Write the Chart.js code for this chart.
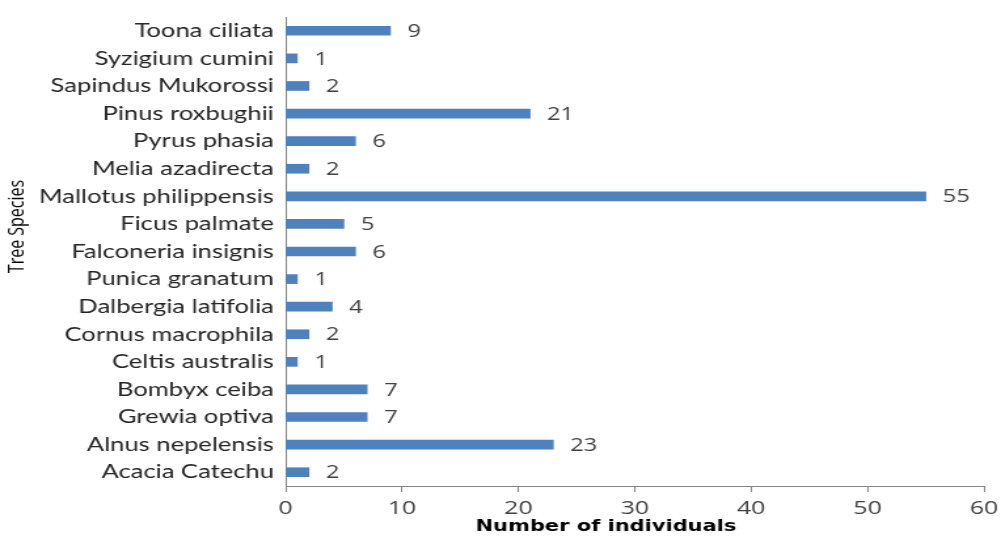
<!DOCTYPE html>
<html>
<head>
<meta charset="utf-8">
<script src="https://cdn.jsdelivr.net/npm/chart.js@4"></script>
<style>
  html, body { margin: 0; padding: 0; background: #fff; overflow: hidden; }
  /* the chart is laid out narrow and then widened, the text comes out broad like the printed figure */
  #wrap { width: 764px; height: 536px; transform: scaleX(1.3102); transform-origin: 0 0; }
</style>
</head>
<body>
<div id="wrap"><canvas id="species_chart" width="764" height="536"></canvas></div>
<script>
// species counted, top to bottom as shown on the axis
var species = ["Toona ciliata", "Syzigium cumini", "Sapindus Mukorossi", "Pinus roxbughii",
  "Pyrus phasia", "Melia azadirecta", "Mallotus philippensis", "Ficus palmate",
  "Falconeria insignis", "Punica granatum", "Dalbergia latifolia", "Cornus macrophila",
  "Celtis australis", "Bombyx ceiba", "Grewia optiva", "Alnus nepelensis", "Acacia Catechu"]
var individuals = [9, 1, 2, 21, 6, 2, 55, 5, 6, 1, 4, 2, 1, 7, 7, 23, 2]
var x_ticks = [0, 10, 20, 30, 40, 50, 60]

var label_font = "Lato, 'Open Sans', sans-serif"
var number_font = "'Open Sans', 'Liberation Sans', sans-serif"

// number written after each bar
var valueLabels = {
  id: 'valueLabels',
  afterDatasetsDraw(chart) {
    let ctx = chart.ctx
    let meta = chart.getDatasetMeta(0)
    ctx.save()
    ctx.fillStyle = '#404040'
    ctx.font = '18px ' + number_font
    ctx.textBaseline = 'middle'
    meta.data.forEach((bar, i) => {
      ctx.fillText(String(individuals[i]), bar.x + 13, bar.y + 1)
    })
    ctx.restore()
  }
}

// both axis titles sit a little off centre, so they are drawn here
var axisTitles = {
  id: 'axisTitles',
  afterDraw(chart) {
    let ctx = chart.ctx
    let area = chart.chartArea
    ctx.save()
    ctx.fillStyle = '#000'
    ctx.textAlign = 'center'
    ctx.textBaseline = 'middle'

    ctx.font = 'bold 16px "DejaVu Sans", Verdana, sans-serif'
    ctx.fillText('Number of individuals', (area.left + area.right) / 2 - 22, area.bottom + 41)

    ctx.translate(13, (area.top + area.bottom) / 2 - 25)
    ctx.rotate(-Math.PI / 2)
    ctx.font = '16px ' + number_font
    ctx.fillText('Tree Species', 0, 0)
    ctx.restore()
  }
}

var ctx = document.getElementById('species_chart').getContext('2d')
var species_chart = new Chart(ctx, {
  type: 'bar',
  data: {
    labels: species,
    datasets: [{
      label: 'Number of individuals',
      data: individuals,
      backgroundColor: '#4F81BD',
      barThickness: 9
    }]
  },
  options: {
    indexAxis: 'y',
    responsive: false,
    animation: false,
    layout: { padding: { top: 17, right: 13, bottom: 0, left: 0 } },
    plugins: {
      legend: { display: false },
      tooltip: { enabled: false }
    },
    scales: {
      x: {
        min: 0,
        max: 60,
        afterBuildTicks: (scale) => { scale.ticks = x_ticks.map(v => ({ value: v })) },
        afterFit: (scale) => {
          scale.height = 50
          scale.paddingLeft = 0
          scale.paddingRight = 0
        },
        grid: { drawOnChartArea: false, drawTicks: true, tickLength: 6, color: '#868686' },
        border: { color: '#868686', width: 1 },
        ticks: { color: '#404040', font: { size: 19, family: number_font }, padding: 5 }
      },
      y: {
        afterFit: (scale) => {
          scale.width = 218
          scale.paddingTop = 0
          scale.paddingBottom = 0
        },
        grid: { display: false },
        border: { color: '#868686', width: 1 },
        ticks: { color: '#262626', font: { size: 19.5, family: label_font }, padding: 1, autoSkip: false }
      }
    }
  },
  plugins: [valueLabels, axisTitles]
})
</script>
</body>
</html>
